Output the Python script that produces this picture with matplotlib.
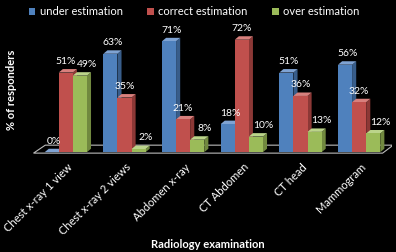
import numpy as np
import matplotlib.pyplot as plt
from matplotlib.patches import Polygon, Rectangle

# data
exams = ["Chest x-ray 1 view", "Chest x-ray 2 views", "Abdomen x-ray",
         "CT Abdomen", "CT head", "Mammogram"]
under = [0, 63, 71, 18, 51, 56]
correct = [51, 35, 21, 72, 36, 32]
over = [49, 2, 8, 10, 13, 12]
series_names = ["under estimation", "correct estimation", "over estimation"]

colors = ["#4F81BD", "#C0504D", "#9BBB59"]
sides = ["#385D8A", "#8C3836", "#71893F"]
tops = ["#7FA3D3", "#D8807D", "#BBD48A"]
label_shift = [0.04, 0.0, 0.12]  # nudges the value labels so they don't collide

plt.rcParams["font.family"] = ["Lato", "DejaVu Sans"]

fig = plt.figure(figsize=(3.96, 2.52), dpi=100, facecolor="black")
ax = fig.add_axes([30 / 396, 1 - 160 / 252, 362 / 396, 140 / 252])
ax.set_facecolor("black")
ax.set_xlim(-0.61, 5.56)
ax.set_ylim(-5, 84.6)
ax.axis("off")

w = 0.24
dx, dy = 0.07, 2.2
x = np.arange(len(exams))

# floor slab
floor = Polygon([(-0.55, -0.6), (5.4, -0.6), (5.58, 4.5), (-0.35, 4.5)],
                closed=True, facecolor="black", edgecolor="#BBBBBB", lw=0.8, zorder=1)
ax.add_patch(floor)

for i, vals in enumerate([under, correct, over]):
    offs = (i - 1) * w
    for xc, h in zip(x, vals):
        xl = xc + offs - w / 2
        ax.add_patch(Polygon([(xl + w, 0), (xl + w + dx, dy), (xl + w + dx, h + dy), (xl + w, h)],
                             closed=True, facecolor=sides[i], lw=0, zorder=2 + i))
        ax.add_patch(Polygon([(xl, h), (xl + w, h), (xl + w + dx, h + dy), (xl + dx, h + dy)],
                             closed=True, facecolor=tops[i], lw=0, zorder=2 + i))
        ax.add_patch(Rectangle((xl, 0), w, h, facecolor=colors[i], lw=0, zorder=2 + i))
        ax.text(xl + w / 2 + label_shift[i], h + dy + 2, f"{h}%", color="white",
                fontsize=7.5, ha="center", va="bottom", zorder=10)

for xc, name in zip(x, exams):
    ax.text(xc + 0.02, -6, name, color="white", fontsize=8, rotation=45,
            ha="right", va="top", rotation_mode="anchor")

# legend
handles = [Rectangle((0, 0), 1, 1, facecolor=c) for c in colors]
fig.legend(handles, series_names, loc="upper center", bbox_to_anchor=(0.49, 1.015),
           ncol=3, frameon=False, labelcolor="white", fontsize=8,
           handlelength=0.6, handleheight=0.6, handletextpad=0.4, columnspacing=2.2)

fig.text(12 / 396, 1 - 90 / 252, "% of responders", color="white", fontsize=8,
         fontweight="bold", rotation=90, ha="center", va="center")
fig.text(208 / 396, 1 - 244 / 252, "Radiology examination", color="white", fontsize=8,
         fontweight="bold", ha="center", va="center")

fig.savefig("out.png", dpi=100, facecolor="black")
